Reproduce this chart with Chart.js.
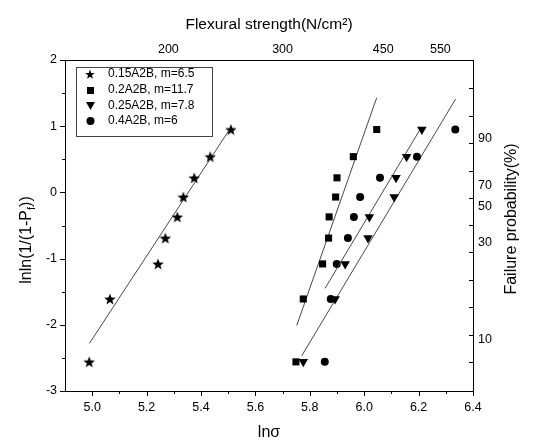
<!DOCTYPE html>
<html>
<head>
<meta charset="utf-8">
<script src="https://cdn.jsdelivr.net/npm/chart.js@4.4.0/dist/chart.umd.min.js"></script>
<style>
  html, body { margin: 0; padding: 0; background: #fff; }
  #wrap { width: 533px; height: 443px; }
</style>
</head>
<body>
<div id="wrap"><canvas id="myChart" width="533" height="443"></canvas></div>
<script>
// lnln(1/(1-Pf)) of the 9 ranked samples, same for every series
const lnlnValues = [-2.56, -1.61, -1.08, -0.69, -0.37, -0.07, 0.22, 0.54, 0.95];

const lnSigma015 = [4.989, 5.065, 5.242, 5.269, 5.313, 5.335, 5.375, 5.434, 5.510];
const lnSigma02 = [5.749, 5.776, 5.847, 5.869, 5.871, 5.895, 5.900, 5.960, 6.046];
const lnSigma025 = [5.776, 5.893, 5.930, 6.014, 6.019, 6.110, 6.117, 6.156, 6.212];
const lnSigma04 = [5.855, 5.877, 5.899, 5.940, 5.962, 5.985, 6.058, 6.194, 6.335];

const seriesNames = ["0.15A2B, m=6.5", "0.2A2B, m=11.7", "0.25A2B, m=7.8", "0.4A2B, m=6"];

// fitted lines, start and end
const fitX = [[4.99, 5.50], [5.752, 6.046], [5.856, 6.211], [5.770, 6.336]];
const fitY = [[-2.28, 0.92], [-2.01, 1.43], [-1.45, 0.99], [-2.47, 1.41]];

const xTicks = [5.0, 5.2, 5.4, 5.6, 5.8, 6.0, 6.2, 6.4];
const xMinor = [5.1, 5.3, 5.5, 5.7, 5.9, 6.1, 6.3];
const yTicks = [-3, -2, -1, 0, 1, 2];
const yMinor = [-2.5, -1.5, -0.5, 0.5, 1.5];
const topTickPos = [5.28, 5.70, 6.07, 6.28];
const topTickLabels = ["200", "300", "450", "550"];
const probTickPos = [0.82, 0.11, -0.22, -0.76, -2.23];
const probTickLabels = ["90", "70", "50", "30", "10"];
const probMarks = [1.58, 1.15, 0.75, 0.32, -0.09, -0.49, -0.90, -1.32, -1.73, -2.15, -2.56];

Chart.defaults.font.family = 'Arial, "Liberation Sans", sans-serif';
Chart.defaults.color = "#000";

function makeStar(size) {
  const c = document.createElement("canvas");
  c.width = size;
  c.height = size;
  const g = c.getContext("2d");
  const r = size / 2;
  g.beginPath();
  for (let i = 0; i < 10; i++) {
    const rad = i % 2 === 0 ? r : r * 0.42;
    const a = -Math.PI / 2 + (i * Math.PI) / 5;
    g.lineTo(r + rad * Math.cos(a), r + 0.6 + rad * Math.sin(a));
  }
  g.closePath();
  g.fillStyle = "#000";
  g.fill();
  return c;
}

const starBig = makeStar(12);
const starSmall = makeStar(10);

function pts(xs) {
  return xs.map((v, i) => ({ x: v, y: lnlnValues[i] }));
}
function fitPts(k) {
  return fitX[k].map((v, i) => ({ x: v, y: fitY[k][i] }));
}

const markerStyles = [
  { pointStyle: starBig, pointRadius: 6, rotation: 0 },
  { pointStyle: "rect", pointRadius: 5, rotation: 0 },
  { pointStyle: "triangle", pointRadius: 5.5, rotation: 180 },
  { pointStyle: "circle", pointRadius: 4, rotation: 0 },
];

const seriesX = [lnSigma015, lnSigma02, lnSigma025, lnSigma04];
let datasets = [];
seriesX.forEach((xs, k) => {
  datasets.push({
    label: seriesNames[k],
    data: pts(xs),
    showLine: false,
    pointStyle: markerStyles[k].pointStyle,
    pointRadius: markerStyles[k].pointRadius,
    rotation: markerStyles[k].rotation,
    backgroundColor: "#000",
    borderColor: "#000",
    borderWidth: 0,
  });
  datasets.push({
    label: "fit " + k,
    data: fitPts(k),
    showLine: true,
    pointRadius: 0,
    borderColor: "#333",
    borderWidth: 0.9,
    fill: false,
  });
});

const decorations = {
  id: "decorations",
  afterDraw(chart) {
    const { ctx, chartArea: a } = chart;
    const x = chart.scales.x;
    const y = chart.scales.y;
    ctx.save();
    ctx.strokeStyle = "#000";
    ctx.lineWidth = 1;
    ctx.beginPath();
    xTicks.forEach((v) => {
      const p = Math.round(x.getPixelForValue(v)) + 0.5;
      ctx.moveTo(p, a.bottom);
      ctx.lineTo(p, a.bottom + 5);
    });
    xMinor.forEach((v) => {
      const p = Math.round(x.getPixelForValue(v)) + 0.5;
      ctx.moveTo(p, a.bottom);
      ctx.lineTo(p, a.bottom + 3);
    });
    yTicks.forEach((v) => {
      const p = Math.round(y.getPixelForValue(v)) + 0.5;
      ctx.moveTo(a.left, p);
      ctx.lineTo(a.left - 5, p);
    });
    yMinor.forEach((v) => {
      const p = Math.round(y.getPixelForValue(v)) + 0.5;
      ctx.moveTo(a.left, p);
      ctx.lineTo(a.left - 3, p);
    });
    probMarks.forEach((v) => {
      const p = Math.round(y.getPixelForValue(v)) + 0.5;
      ctx.moveTo(a.right, p);
      ctx.lineTo(a.right - 4, p);
    });
    ctx.stroke();

    // legend box
    ctx.strokeStyle = "#444";
    ctx.strokeRect(76.5, 67.5, 136, 69);
    const rows = [74, 90, 105.5, 121];
    ctx.fillStyle = "#000";
    ctx.drawImage(starSmall, 85, rows[0] - 5);
    ctx.fillRect(87, rows[1] - 3, 7, 7);
    ctx.beginPath();
    ctx.moveTo(86, rows[2] - 3.5);
    ctx.lineTo(95, rows[2] - 3.5);
    ctx.lineTo(90.5, rows[2] + 4.5);
    ctx.closePath();
    ctx.fill();
    ctx.beginPath();
    ctx.arc(90.5, rows[3], 4, 0, Math.PI * 2);
    ctx.fill();
    ctx.font = '12px Arial, "Liberation Sans", sans-serif';
    ctx.textBaseline = "middle";
    ctx.textAlign = "left";
    seriesNames.forEach((n, i) => ctx.fillText(n, 108, rows[i]));

    // left title with subscript
    ctx.save();
    ctx.translate(27, 240);
    ctx.rotate(-Math.PI / 2);
    const big = '16px Arial, "Liberation Sans", sans-serif';
    const small = '11px Arial, "Liberation Sans", sans-serif';
    const s1 = "lnln(1/(1-P", s2 = "f", s3 = "))";
    ctx.font = big;
    const w1 = ctx.measureText(s1).width, w3 = ctx.measureText(s3).width;
    ctx.font = small;
    const w2 = ctx.measureText(s2).width;
    let cx = -(w1 + w2 + w3) / 2;
    ctx.textAlign = "left";
    ctx.font = big;
    ctx.fillText(s1, cx, 0);
    ctx.font = small;
    ctx.fillText(s2, cx + w1, 5);
    ctx.font = big;
    ctx.fillText(s3, cx + w1 + w2, 0);
    ctx.restore();

    // right title
    ctx.save();
    ctx.translate(512, 219);
    ctx.rotate(-Math.PI / 2);
    ctx.font = big;
    ctx.textAlign = "center";
    ctx.fillText("Failure probability(%)", 0, 0);
    ctx.restore();

    ctx.restore();
  },
};

const ctx = document.getElementById("myChart");

new Chart(ctx, {
  type: "scatter",
  data: { datasets: datasets },
  plugins: [decorations],
  options: {
    responsive: false,
    animation: false,
    layout: { padding: 0, autoPadding: false },
    plugins: { legend: { display: false }, tooltip: { enabled: false } },
    scales: {
      x: {
        type: "linear",
        position: "bottom",
        min: 4.9,
        max: 6.4,
        afterFit: (s) => { s.height = 52; },
        afterBuildTicks: (s) => { s.ticks = xTicks.map((v) => ({ value: v })); },
        grid: { display: false, drawTicks: false },
        border: { display: true, color: "#000", width: 1 },
        ticks: { padding: 9, autoSkip: false, maxRotation: 0, font: { size: 12.5 }, callback: (v) => v.toFixed(1) },
        title: { display: true, text: "lnσ", font: { size: 16 }, padding: { top: 0, bottom: 1 } },
      },
      x2: {
        type: "linear",
        axis: "x",
        position: "top",
        min: 4.9,
        max: 6.4,
        afterFit: (s) => { s.height = 60; },
        afterBuildTicks: (s) => { s.ticks = topTickPos.map((v) => ({ value: v })); },
        grid: { display: false, drawTicks: false },
        border: { display: true, color: "#000", width: 1 },
        ticks: { padding: 3, autoSkip: false, maxRotation: 0, font: { size: 12.5 }, callback: (v, i) => topTickLabels[i] },
        title: { display: true, text: "Flexural strength(N/cm²)", font: { size: 15.5 }, padding: { top: 15, bottom: 0 } },
      },
      y: {
        type: "linear",
        position: "left",
        min: -3,
        max: 2,
        afterFit: (s) => { s.width = 65; },
        afterBuildTicks: (s) => { s.ticks = yTicks.map((v) => ({ value: v })); },
        grid: { display: false, drawTicks: false },
        border: { display: true, color: "#000", width: 1 },
        ticks: { padding: 8, autoSkip: false, font: { size: 12.5 }, callback: (v) => String(v) },
      },
      y2: {
        type: "linear",
        axis: "y",
        position: "right",
        min: -3,
        max: 2,
        afterFit: (s) => { s.width = 60; },
        afterBuildTicks: (s) => { s.ticks = probTickPos.map((v) => ({ value: v })); },
        grid: { display: false, drawTicks: false },
        border: { display: true, color: "#000", width: 1 },
        ticks: { padding: 5, autoSkip: false, font: { size: 12.5 }, callback: (v, i) => probTickLabels[i] },
      },
    },
  },
});
</script>
</body>
</html>
